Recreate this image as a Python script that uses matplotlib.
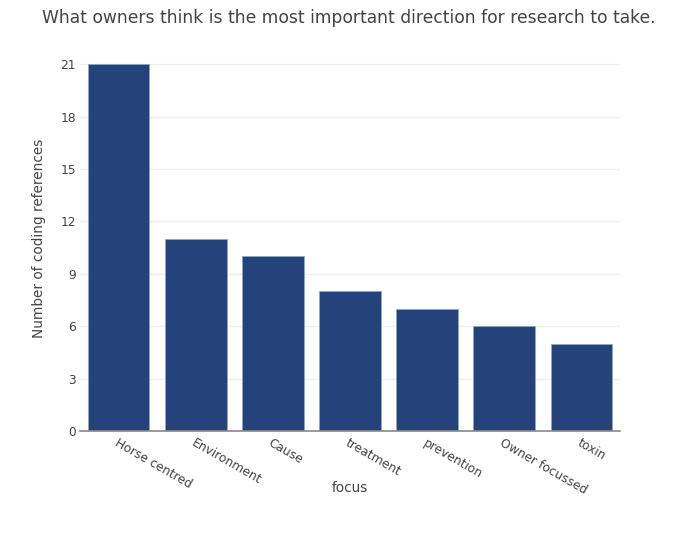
import numpy as np
import matplotlib.pyplot as plt

categories = ['Horse centred', 'Environment', 'Cause', 'treatment',
              'prevention', 'Owner focussed', 'toxin']
counts = [21, 11, 10, 8, 7, 6, 5]
yticks = [0, 3, 6, 9, 12, 15, 18, 21]

txt = '#444444'
plt.rcParams['font.family'] = ['DejaVu Sans']

fig = plt.figure(figsize=(7, 5.56), dpi=100)
ax = fig.add_axes([80/700, 1-431/556, 540/700, 386/556])

x = np.arange(len(categories))
ax.bar(x, counts, width=0.8, color='#24437a', edgecolor='#8fa6c4', linewidth=0.6, zorder=3)

ax.set_xlim(-0.5, len(categories)-0.5)
ax.set_ylim(0, 22.1)
ax.set_yticks(yticks)
ax.set_yticklabels([str(v) for v in yticks], fontsize=8.8, color=txt)
ax.set_xticks(x)
ax.set_xticklabels(categories, rotation=-30, ha='left', va='top',
                   rotation_mode='anchor', fontsize=8.8, color=txt)
ax.tick_params(axis='y', length=0, pad=3)
ax.tick_params(axis='x', length=0, pad=4)

ax.grid(axis='y', color='#eeeeee', linewidth=1, zorder=0)
for s in ['top', 'right', 'left']:
    ax.spines[s].set_visible(False)
ax.spines['bottom'].set_color('#888888')
ax.spines['bottom'].set_linewidth(1.2)
ax.spines['bottom'].set_zorder(4)

ax.set_ylabel('Number of coding references', fontsize=9.8, color=txt, labelpad=10)
fig.text(350/700, 1-488/556, 'focus', ha='center', va='center', fontsize=9.8, color=txt)
fig.text(349/700, 1-18/556, 'What owners think is the most important direction for research to take.',
         ha='center', va='center', fontsize=12.3, color=txt)

fig.savefig('out.png', dpi=100)
